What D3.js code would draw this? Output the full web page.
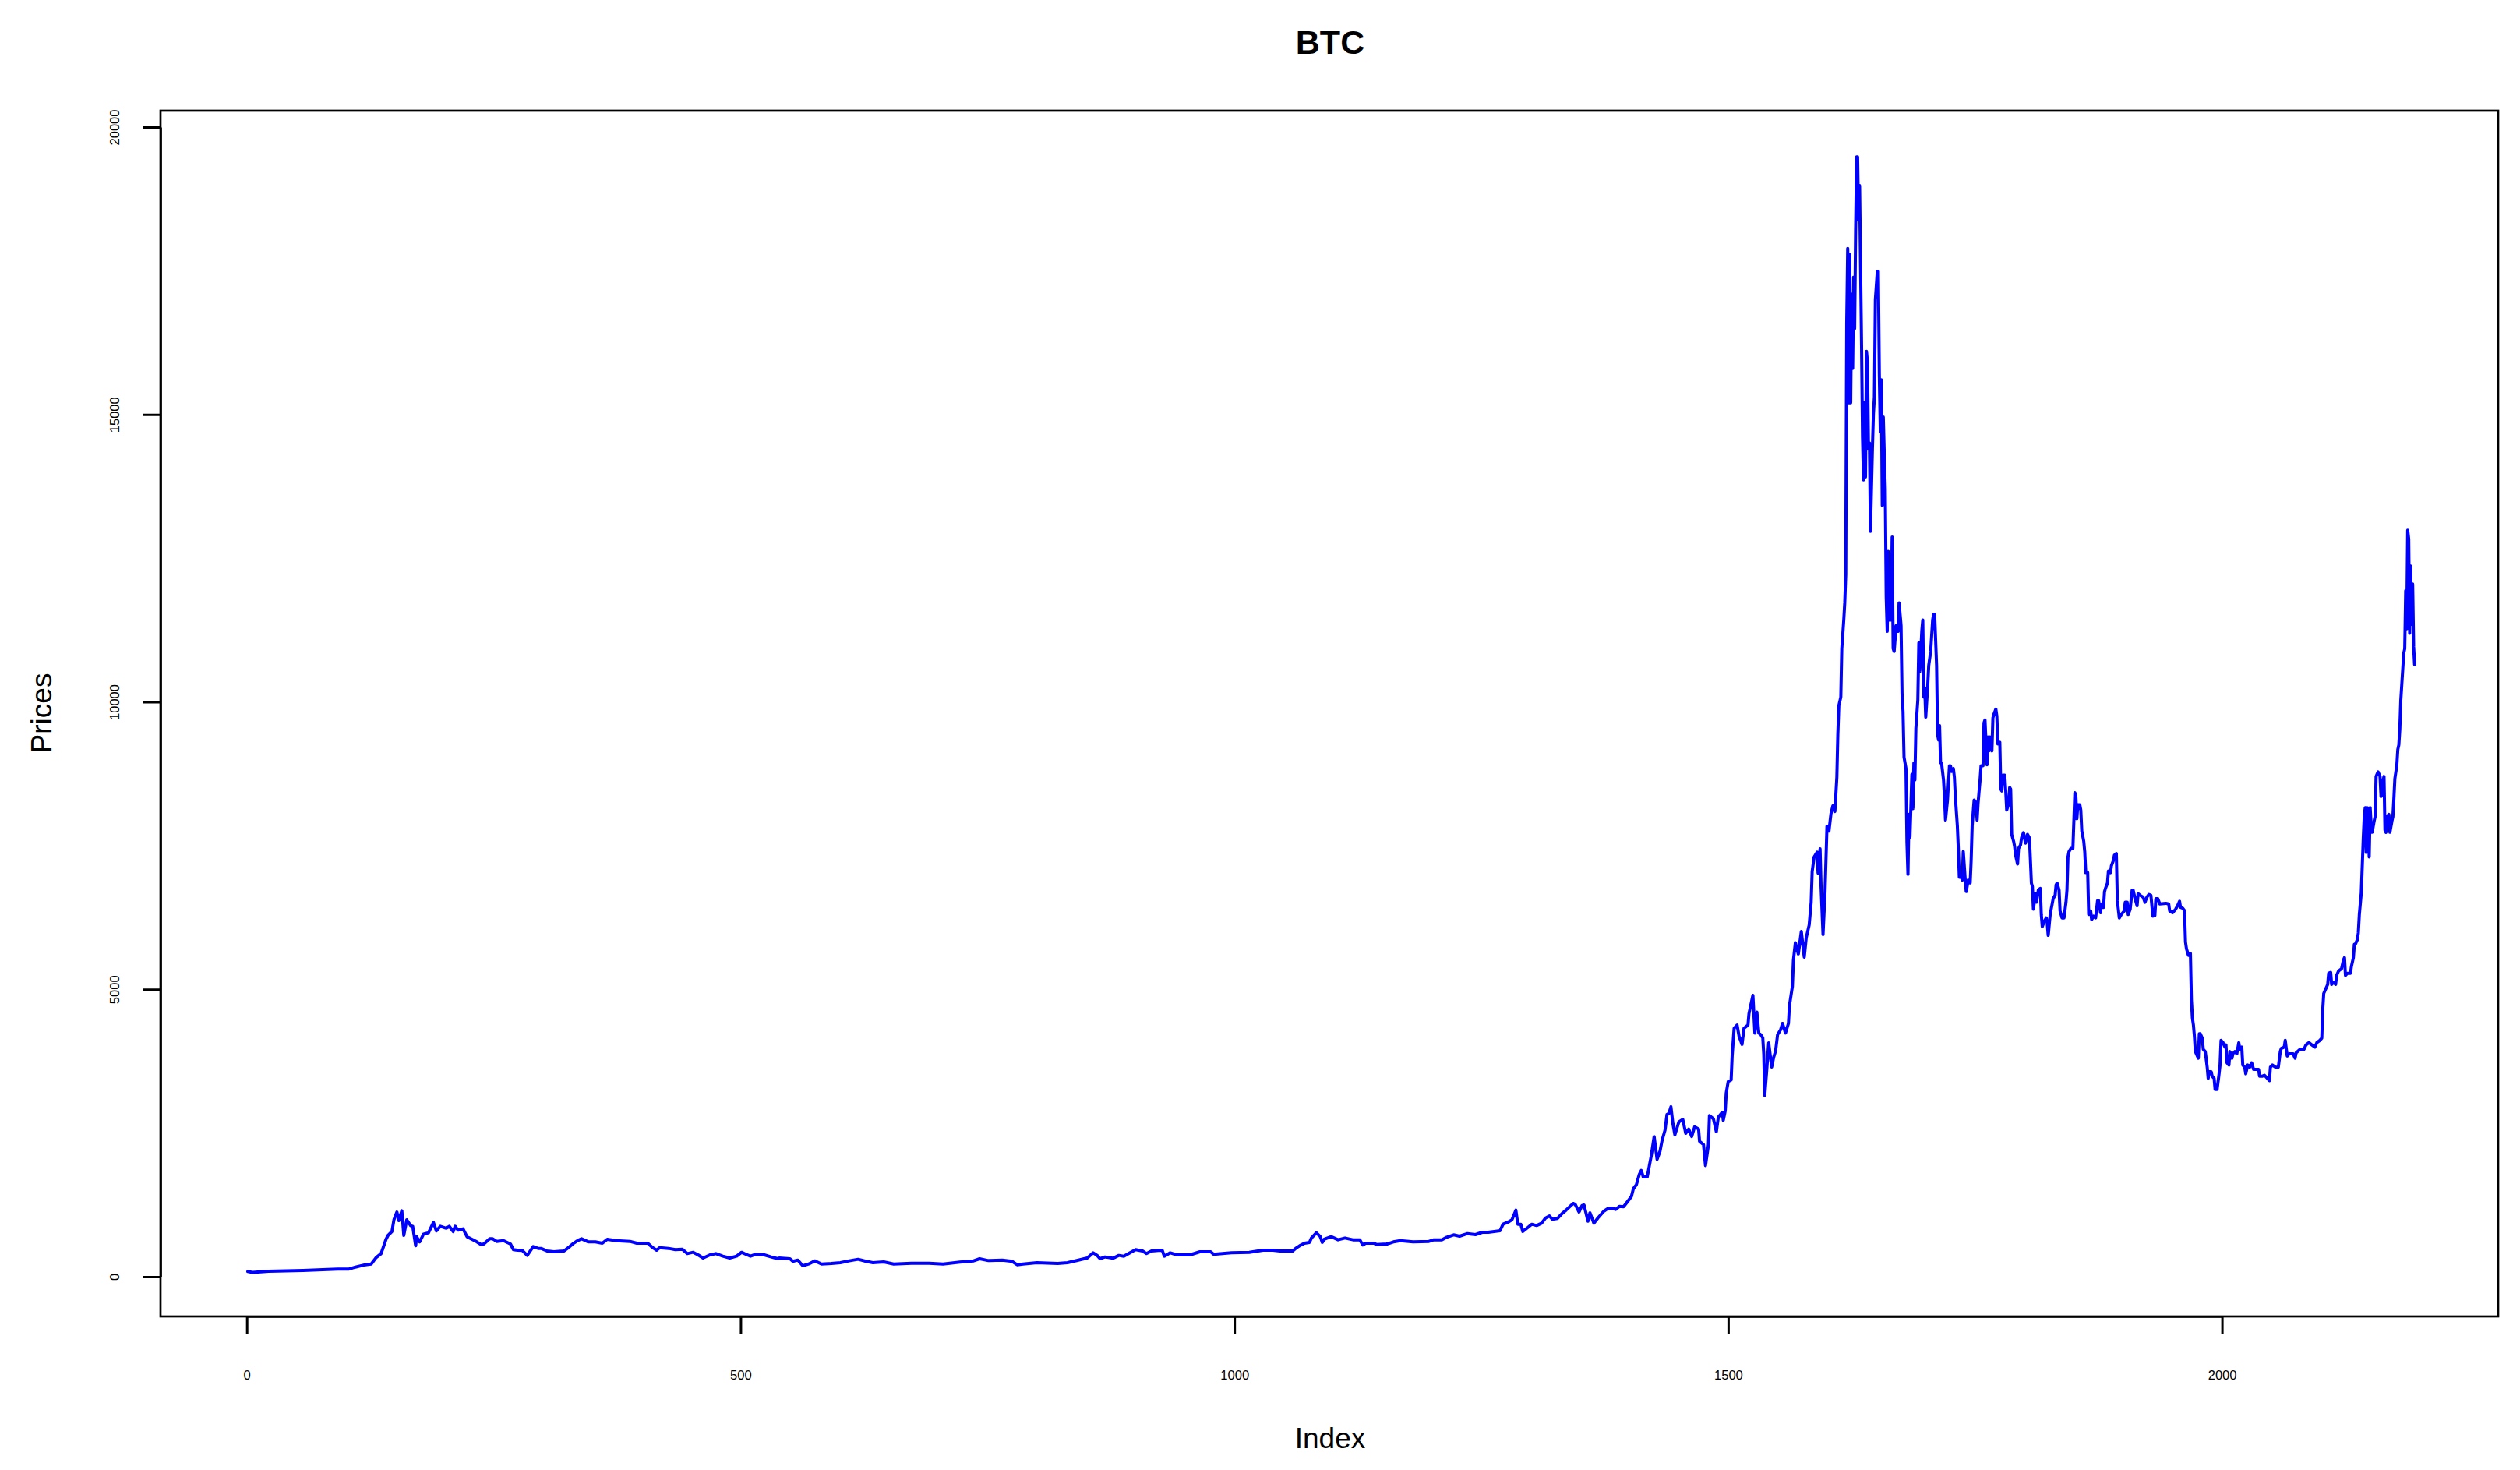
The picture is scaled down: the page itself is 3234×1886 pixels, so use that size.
<!DOCTYPE html>
<html><head><meta charset="utf-8">
<script src="https://cdn.jsdelivr.net/npm/d3@7"></script>
<style>
html,body{margin:0;padding:0;background:#fff}
svg{display:block}
text{font-family:"Liberation Sans",Arial,Helvetica,sans-serif;fill:#000}
</style>
</head><body>
<svg id="chart" width="3234" height="1886"></svg>
<script>
const title = "BTC";
const xLabel = "Index";
const yLabel = "Prices";
const xTicks = [0, 500, 1000, 1500, 2000];
const yTicks = [0, 5000, 10000, 15000, 20000];

const indexValues = [
  1,6,22,57,92,103,110,120,126,131, 136,141,143,147,149,152,154,157,159,162,
  166,168,171,172,175,179,184,189,192,196, 202,205,209,211,214,219,223,228,233,237,
  240,246,249,253,260,267,270,274,279,284, 290,295,298,304,311,321,327,330,335,339,
  346,353,360,365,374,388,395,406,411,415, 418,427,434,441,446,452,457,462,469,475,
  482,489,496,501,505,510,515,524,531,538,
  539,550,553,558,563,569,575,582,592,601, 610,619,627,634,645,655,673,691,705,722,
  736,742,751,765,775,780,786,800,821,831, 842,851,857,861,864,869,877,883,888,895,
  900,907,911,916,923,927,929,935,942,955, 965,976,979,997,1015,1029,1039,1046,1059,1062,
  1066,1071,1076,1078,1083,1087,1089,
  1091,1098,1105,1112,1120,1127,1130,1133,1141,1144, 1155,1161,1168,1181,1197,1202,1210,1215,1222,1228,
  1236,1244,1251,1257,1269,1272,1278,1281,1285,1287, 1290,1292,1297,1301,1306,1311,1315,1319,1322,1327,
  1332,1336,1343,1345,1349,1352,1354,1358,1360,1364, 1368,1374,1378,1382,1386,1390,1394,1398,1402,1404,
  1407,1410,1412,1414,1418,1420,1422,1425,1428,1431, 1433,1436,1438,1440,1442,1444,
  1446,1450,1454,1457,1460,1463,1466,1470,1471,1475, 1477,1480,1481,1485,1488,1490,1494,1495,1497,1498,
  1500,1503,1504,1506,1509,1511,1514,1516,1520,1521, 1525,1527,1529,1531,1533,1535,1536,1537,1539,1541,
  1544,1546,1548,1550,1553,1555,1558,1561,1562,1565, 1566,1568,1571,1574,1577,1579,1582,1584,1585,1587,
  1590,1591,1593,1594,1596,1598,1600,1602,1604,
  1606,1608,1610,1611,1612,1614,1615,1617,1618,1619, 1620,1621,1622,1623,1624,1625,1626,1627,1628,1629,
  1630,1631,1632,1633,1634,1635,1636,1637,1638,1639, 1640,1641,1642,1643,1644,1646,1647,1648,1649,1651,
  1652,1653,1654,1655,1656,1657,1658,1659,1660,1661, 1662,1663,1665,1666,1667,1668,1670,1672,1673,1675,
  1676,1677,1678,1680,1681,1682,1683,1684,1686,1687, 1688,1689,1690,1692,1693,1694,1696,1697,1698,1699,
  1700,1702,1703,1705,1707,1708,1709,1711,1712,1713, 1714,1715,1716,1718,1719,1720,1722,1724,1725,1726,
  1728,1729,1730,1732,1733,1734,1736,1737,1738,1740, 1741,1743,1745,1746,1747,1749,1751,1752,1753,1755,
  1756,1758,1759,1760,
  1762,1763,1764,1765,1767,1768,1769,1771,1772,1773, 1775,1776,1777,1778,1780,1781,1782,1784,1785,1786,
  1787,1789,1790,1791,1793,1794,1796,1797,1799,1801, 1803,1805,1807,1808,1809,1811,1812,1814,1816,1817,
  1818,1820,1822,1823,1824,1826,1828,1829,1831,1832, 1833,1835,1836,1838,1840,1842,1843,1844,1845,1847,
  1849,1850,1851,1852,1853,1854,1856,1857,1858,1860, 1861,1862,1864,1865,1867,1868,1870,1872,1874,1875,
  1877,1878,1880,1881,1882,1884,1885,1887,1888,1890, 1891,1893,1894,1896,1898,1901,1902,1904,1905,1907,
  1909,1910,1912,1914,1915,1917,1920,1922,1924,1926, 1928,1930,1932,1933,1935,1937,1943,1946,1947,1950,
  1953,1955,1957,1958,
  1960,1962,1963,1964,1966,1968,1969,1970,1971,1972, 1973,1974,1976,1977,1978,1980,1981,1983,1985,1986,
  1987,1989,1990,1992,1993,1995,1997,1998,1999,2001, 2003,2004,2005,2007,2008,2010,2011,2013,2015,2017,
  2018,2020,2021,2023,2024,2026,2028,2030,2032,2034, 2037,2038,2041,2043,2046,2048,2049,2051,2054,2057,
  2059,2060,2063,2064,2066,2068,2072,2074,2075,2079, 2083,2085,2088,2091,2094,2096,2099,2101,2102,2103,
  2105,2107,2108,2110,2111,2113,2115,2116,2118,2121, 2123,2124,2125,2127,2130,2131,2133,2134,2135,2137,
  2138,2139,2141,2142,2143,2144,2145,2146,2147,2148, 2149,2150,2151,2152,2154,2155,2156,2158,2160,2161,
  2162,2163,2164,2165,2166,2167,2169,2170,2172,2173, 2174,2175,2177,2178,2179,2180,2181,2183,2184,2185,
  2186,2187,2188,2189,2190,2191,2192,2193,2194,2195
];

const priceValues = [
  90,75,95,108,131,131,167,208,221,334, 402,651,719,786,990,1125,976,1148,719,990,
  886,877,538,696,606,741,764,945,796,877, 841,877,786,877,809,832,696,651,606,560,
  570,660,660,615,628,570,470,461,457,371, 524,493,493,447,434,447,524,570,628,660,
  606,606,583,651,628,615,583,583,506,461, 506,493,470,479,402,425,380,325,380,402,
  357,325,357,425,393,357,389,380,344,312,
  325,312,267,289,190,221,276,221,230,244, 276,303,267,244,258,221,235,235,221,253,
  276,312,280,289,267,208,221,244,230,244, 289,325,416,371,312,344,321,371,357,425,
  470,447,402,447,457,457,357,416,380,380, 434,434,389,416,425,461,461,447,447,493,
  538,583,597,673,764,696,597,
  651,696,642,673,642,642,552,583,583,561, 570,606,628,606,615,642,642,687,728,705,
  750,732,773,773,800,913,958,990,1157,913, 913,787,855,913,890,931,1021,1057,999,1012,
  1102,1161,1275,1261,1125,1238,1247,967,1112,931, 1021,1139,1184,1193,1170,1225,1216,1306,1396,1532,
  1600,1781,1848,1735,1735,1916,2097,2437,2042,2187, 2368,2549,2820,2843,2956,2662,
  2468,2692,2736,2495,2568,2439,2607,2568,2355,2298, 1933,2298,2804,2748,2523,2776,2861,2720,2888,3197,
  3395,3425,3844,4322,4378,4182,4041,4322,4378,4575, 4895,4238,4603,4238,4210,4154,3872,3153,3591,4069,
  3647,3816,3929,4210,4294,4407,4238,4407,4716,5053, 5502,5812,5615,6008,5559,5896,6121,6515,7048,7302,
  7386,7021,7443,6796,5953,6683,7836,7752,8050,
  8193,8094,8690,9436,9934,10083,10928,11425,11723,12221, 16597,17889,15204,17790,15204,17093,15800,17391,16496,18187,
  19480,19480,18386,18983,17591,16198,14607,13862,15204,13912, 16099,15900,14408,14507,12967,14408,15005,15303,16994,17492,
  17492,15702,14707,15602,13414,14956,14309,13712,11823,11227, 12618,11425,11425,12867,10928,10878,11326,11227,11723,11326,
  10133,9834,9039,8839,7547,7000,8043,7646,8740,8144, 8940,8641,9536,10034,11028,10530,11227,11425,10083,10232,
  9734,10283,10629,10878,11425,11524,11524,10629,9436,9337, 9586,8940,8940,8641,8342,7944,8292,8889,8889,8790,
  8839,8690,8342,7845,7447,6950,6950,6900,7398,6900, 6701,6900,6851,7249,7845,8292,8243,7944,8243,8641,
  8889,8889,9635,9685,
  8905,9390,9147,9390,9147,9722,9783,9874,9753,9268, 9298,8481,8450,8724,8724,8450,8118,8239,8511,8481,
  7695,7573,7482,7331,7180,7452,7513,7634,7725,7543, 7695,7634,6847,6787,6393,6666,6514,6726,6756,6302,
  6090,6181,6242,6151,5939,6302,6484,6575,6636,6817, 6847,6726,6363,6242,6242,6514,6726,7301,7392,7452,
  7452,7936,8420,8360,7966,8209,8209,8118,7755,7573, 7392,7029,7029,6302,6363,6212,6272,6242,6544,6544,
  6333,6484,6424,6696,6756,6847,7059,7029,7150,7241, 7331,7361,6544,6242,6302,6363,6514,6514,6302,6393,
  6726,6726,6575,6454,6666,6636,6605,6514,6605,6650, 6636,6272,6284,6575,6575,6484,6496,6484,6363,6333,
  6393,6454,6532,6424,
  6412,6369,5824,5707,5590,5624,4812,4500,4384,4190, 3917,3878,3800,4228,4228,4150,3956,3917,3645,3450,
  3567,3567,3489,3450,3256,3256,3528,3683,4111,4072, 3994,4033,3722,3683,3917,3800,3878,3917,3878,4072,
  3956,3994,3683,3645,3528,3683,3645,3722,3606,3606, 3606,3489,3489,3505,3450,3411,3645,3683,3645,3645,
  3917,3972,3994,4111,3839,3878,3878,3800,3894,3956, 3956,4033,4072,4033,3994,4072,4111,4150,4656,4929,
  5007,5085,5279,5295,5085,5124,5085,5241,5319,5358, 5512,5551,5241,5279,5279,5397,5551,5784,5784,5862,
  5980,6291,6680,7147,7614,8003,8159,7380,8159,7925, 7303,8159,7848,7731,7925,8003,8704,8781,8704,8354,
  8393,8626,8704,7770,7731,8003,8042,7731,7925,8003, 8315,8665,8899,9171,9249,9521,10027,10572,10845,10923,
  11934,11272,12985,12830,11194,12362,11350,12051,10961,10649
];

const n = Math.min(indexValues.length, priceValues.length);
const series = d3.range(n).map(k => [indexValues[k], priceValues[k]]);

const svg = d3.select("#chart");
svg.append("rect").attr("x",0).attr("y",0).attr("width",3234).attr("height",1886).attr("fill","#fff");

const x = d3.scaleLinear().domain([0, 2000]).range([316.7, 2851.6]);
const y = d3.scaleLinear().domain([0, 20000]).range([1638, 163]);

const box = {left: 206, top: 142, right: 3206, bottom: 1689};

// plot line
svg.append("path")
  .datum(series)
  .attr("fill","none")
  .attr("stroke","#0000ff")
  .attr("stroke-width",4)
  .attr("stroke-linejoin","round")
  .attr("stroke-linecap","round")
  .attr("d", d3.line().x(d => x(d[0])).y(d => y(d[1])));

// box
svg.append("rect")
  .attr("x", box.left).attr("y", box.top)
  .attr("width", box.right - box.left).attr("height", box.bottom - box.top)
  .attr("fill","none").attr("stroke","#000").attr("stroke-width",2.7);

// x axis
const gx = svg.append("g")
  .attr("transform", `translate(0,${box.bottom})`)
  .call(d3.axisBottom(x).tickValues(xTicks).tickSize(22).tickSizeOuter(0).tickPadding(47).tickFormat(d3.format("d")));
gx.select(".domain").attr("stroke","#000").attr("stroke-width",2.7);
gx.selectAll(".tick line").attr("stroke","#000").attr("stroke-width",3);
gx.selectAll(".tick text").attr("font-size",16.6).attr("font-family","Liberation Sans, Arial, sans-serif").attr("fill","#000");

// y axis
const gy = svg.append("g")
  .attr("transform", `translate(${box.left},0)`)
  .call(d3.axisLeft(y).tickValues(yTicks).tickSize(22).tickSizeOuter(0).tickFormat(d3.format("d")));
gy.select(".domain").attr("stroke","#000").attr("stroke-width",2.7);
gy.selectAll(".tick line").attr("stroke","#000").attr("stroke-width",3);
gy.selectAll(".tick text")
  .attr("x",0).attr("y",0).attr("dy",0)
  .attr("text-anchor","middle")
  .attr("transform","translate(-53,0) rotate(-90)")
  .attr("font-size",16.6).attr("font-family","Liberation Sans, Arial, sans-serif").attr("fill","#000");

// title and labels
svg.append("text").attr("x",1707).attr("y",69).attr("text-anchor","middle")
  .attr("font-size",43).attr("font-weight","bold").text(title);
svg.append("text").attr("x",1707).attr("y",1858).attr("text-anchor","middle")
  .attr("font-size",37).text(xLabel);
svg.append("text").attr("text-anchor","middle")
  .attr("transform","translate(66,915) rotate(-90)")
  .attr("font-size",37).text(yLabel);
</script>
</body></html>
